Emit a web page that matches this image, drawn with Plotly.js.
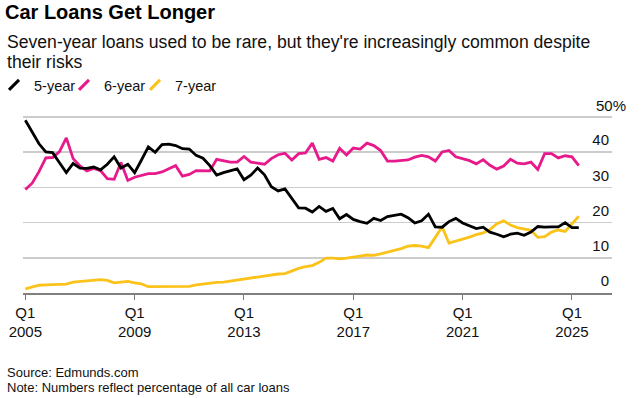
<!DOCTYPE html>
<html><head><meta charset="utf-8">
<script src="https://cdn.plot.ly/plotly-3.0.1.min.js"></script>
<style>html,body{margin:0;padding:0;background:#fff}#chart{width:641px;height:398px}</style>
</head><body><div id="chart"></div>
<script>
// Quarterly categories, Q1 2005 .. Q2 2025
const quarters = [];
for (let y = 2005; y <= 2025; y++) {
  for (let q = 1; q <= 4; q++) {
    if (y === 2025 && q > 2) break;
    quarters.push(y + ' Q' + q);
  }
}
const tickYears = ['2005', '2009', '2013', '2017', '2021', '2025'];
const tickCats = tickYears.map(y => y + ' Q1');
const tickLabels = tickYears.map(y => 'Q1<br>' + y);

const fiveYear = [49.1,45.7,42.4,40.1,39.9,37.0,34.2,36.8,35.5,35.4,35.8,35.0,36.6,38.7,35.5,36.6,
  34.2,37.8,41.5,40.0,42.2,42.3,41.9,41.0,40.9,39.1,38.3,36.2,33.5,34.2,34.8,35.3,
  32.2,33.5,35.5,33.6,30.2,29.0,29.6,26.8,24.2,24.1,23.0,24.6,23.2,24.0,21.1,22.3,
  20.9,20.3,19.8,21.2,20.6,21.7,22.1,22.4,21.4,19.9,20.5,22.4,18.8,18.7,20.3,21.2,
  19.9,19.2,18.3,18.7,17.3,16.7,16.0,16.7,17.0,16.4,17.3,18.9,18.7,18.8,18.8,20.0,
  18.6,18.6];
const sixYear = [29.4,31.2,34.5,38.4,38.5,40.2,44.1,38.2,36.1,34.7,35.4,34.8,32.5,32.3,37.1,32.0,
  32.9,33.4,33.9,33.9,34.4,35.3,36.2,33.2,33.7,34.8,34.8,34.7,38.0,37.5,37.2,37.2,
  38.8,37.2,37.0,36.6,38.2,39.3,39.7,37.8,39.6,39.8,42.6,38.0,38.5,37.5,41.1,39.2,
  41.2,40.9,42.6,41.9,40.5,37.5,37.5,37.7,37.8,38.6,39.1,38.7,37.5,40.1,40.5,38.7,
  38.2,37.6,36.7,37.9,36.3,35.2,36.1,38.0,36.9,36.7,37.2,35.1,39.6,39.6,38.4,39.0,
  38.7,36.2];
const sevenYear = [1.2,1.8,2.2,2.3,2.4,2.4,2.5,3.1,3.3,3.3,3.5,3.8,3.6,2.9,3.1,3.3,
  2.9,2.6,1.8,1.8,1.7,1.7,1.7,1.8,1.9,2.3,2.6,2.8,3.0,3.1,3.4,3.6,
  3.9,4.2,4.5,4.7,5.1,5.4,5.5,6.3,7.0,7.5,7.8,8.7,9.9,9.9,9.7,9.9,
  10.1,10.5,10.8,10.7,11.1,11.6,12.0,12.6,13.3,13.5,13.3,12.9,15.8,18.8,14.2,14.7,
  15.3,15.9,16.6,17.1,18.0,19.7,20.5,19.3,18.6,18.2,17.8,15.8,16.0,17.3,17.9,17.5,
  19.6,21.8];

const seriesNames = ['5-year', '6-year', '7-year'];
const seriesColors = ['#000000', '#e8198b', '#fbc31a'];
const seriesData = [fiveYear, sixYear, sevenYear];
const legendIds = ['legend', 'legend2', 'legend3'];

const yTicks = [0, 10, 20, 30, 40, 50];
const yTickText = ['0', '10', '20', '30', '40', ''];
const yTopLabel = '50%';

const traces = [];
// draw order: yellow, pink, black on top
[2, 1, 0].forEach(k => {
  traces.push({
    x: quarters, y: seriesData[k], type: 'scatter', mode: 'lines',
    line: {color: seriesColors[k], width: 2.8}, showlegend: false, hoverinfo: 'skip'
  });
});
// legend entries (slash icons), one small legend per series
[0, 1, 2].forEach(k => {
  traces.push({
    x: [null], y: [null], type: 'scatter', mode: 'markers', name: seriesNames[k],
    legend: legendIds[k],
    marker: {symbol: 'line-ne', size: 10, color: seriesColors[k], line: {width: 3, color: seriesColors[k]}},
    showlegend: true, hoverinfo: 'skip'
  });
});

const FONT = 'Liberation Sans, Arial, Helvetica, sans-serif';
function legendAt(px) {
  return {
    orientation: 'h', x: px / 641, xref: 'container', xanchor: 'left',
    y: 1 - 69 / 398, yref: 'container', yanchor: 'top',
    font: {family: FONT, size: 14.5, color: '#111'}, itemwidth: 30, indentation: -7,
    bgcolor: 'rgba(0,0,0,0)'
  };
}

const layout = {
  width: 641, height: 398,
  margin: {l: 23, r: 29, t: 116, b: 105, pad: 0},
  paper_bgcolor: '#ffffff', plot_bgcolor: '#ffffff',
  font: {family: FONT, color: '#111111', size: 15},
  title: {
    text: '<b>Car Loans Get Longer</b>', font: {family: FONT, size: 20, color: '#000'},
    x: 5 / 641, xanchor: 'left', xref: 'container',
    y: 1 - 5 / 398, yanchor: 'top', yref: 'container'
  },
  showlegend: true,
  legend: legendAt(1),
  legend2: legendAt(71),
  legend3: legendAt(142),
  xaxis: {
    type: 'category', range: [-0.34, 85.86],
    tickmode: 'array', tickvals: tickCats, ticktext: tickLabels,
    ticks: 'outside', ticklen: 5, tickcolor: '#777', tickwidth: 1,
    showline: true, linecolor: '#808080', linewidth: 1.5,
    showgrid: false, zeroline: false, tickfont: {family: FONT, size: 15, color: '#111'},
    fixedrange: true
  },
  yaxis: {
    range: [0, 50.3], side: 'right', tickmode: 'array', tickvals: yTicks, ticktext: yTickText,
    ticklabelposition: 'inside', ticklabelshift: -12, ticks: '',
    showgrid: true, gridcolor: '#cccccc', gridwidth: 1.5, zeroline: false, showline: false,
    tickfont: {family: FONT, size: 15, color: '#111'}, fixedrange: true
  },
  annotations: [
    {text: yTopLabel, xref: 'paper', x: 1, yref: 'y', y: 50, xanchor: 'left', yanchor: 'middle',
     xshift: -18, yshift: 12, showarrow: false, font: {family: FONT, size: 15, color: '#111'}},
    {text: "Seven-year loans used to be rare, but they're increasingly common despite",
     xref: 'paper', x: (5 - 23) / 589, xanchor: 'left', yref: 'paper', y: (293 - 42) / 177,
     yanchor: 'middle', showarrow: false, font: {family: FONT, size: 17.6, color: '#111'}},
    {text: 'their risks',
     xref: 'paper', x: (5 - 23) / 589, xanchor: 'left', yref: 'paper', y: (293 - 61.5) / 177,
     yanchor: 'middle', showarrow: false, font: {family: FONT, size: 17.6, color: '#111'}},
    {text: 'Source: Edmunds.com',
     xref: 'paper', x: (5 - 23) / 589, xanchor: 'left', yref: 'paper', y: (293 - 372) / 177,
     yanchor: 'middle', showarrow: false, font: {family: FONT, size: 13, color: '#111'}},
    {text: 'Note: Numbers reflect percentage of all car loans',
     xref: 'paper', x: (5 - 23) / 589, xanchor: 'left', yref: 'paper', y: (293 - 387) / 177,
     yanchor: 'middle', showarrow: false, font: {family: FONT, size: 13, color: '#111'}}
  ]
};

Plotly.newPlot('chart', traces, layout, {displayModeBar: false, staticPlot: true});
</script>
</body></html>
